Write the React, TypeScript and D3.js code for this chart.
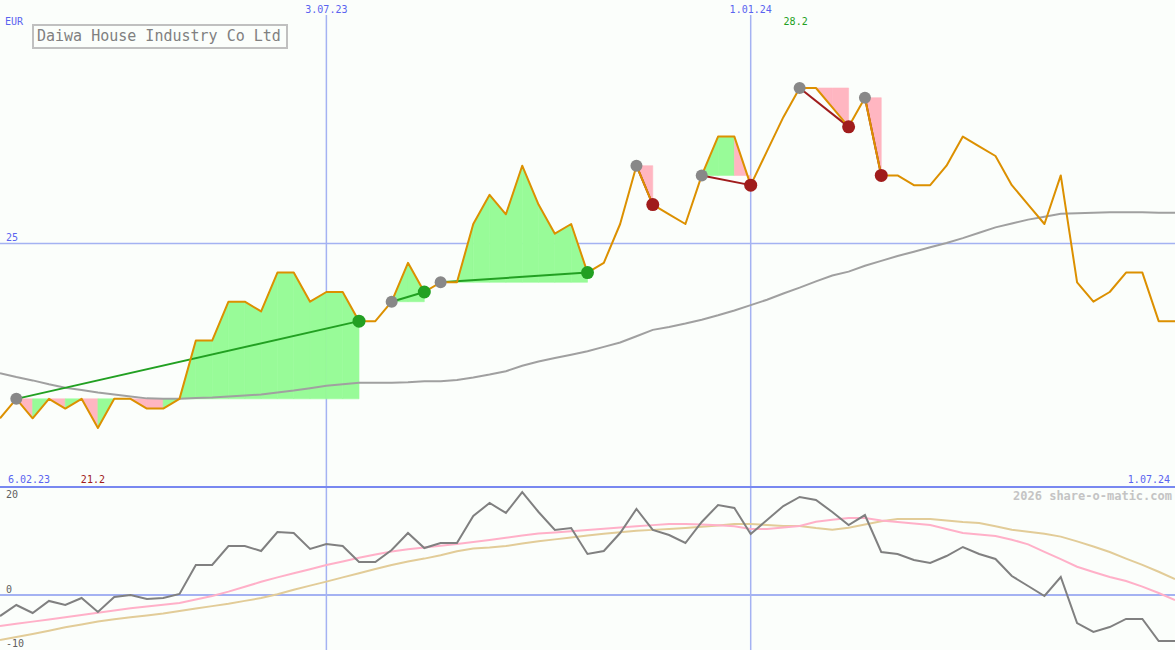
import React from "react";
import * as d3 from "d3";

const W = 1175;
const H = 650;

const title = "Daiwa House Industry Co Ltd";
const currency = "EUR";
const startLabel = "6.02.23";
const endLabel = "1.07.24";
const dateTicks = ["3.07.23", "1.01.24"];
const dateTickIdx = [20, 46];
const priceGrid = [25];
const oscGrid = [0];
const oscLabels = [20, 0, -10];
const credit = "2026 share-o-matic.com";

const price = [
  21.4, 21.8, 21.4, 21.8, 21.6, 21.8, 21.2, 21.8, 21.8, 21.6,
  21.6, 21.8, 23.0, 23.0, 23.8, 23.8, 23.6, 24.4, 24.4, 23.8,
  24.0, 24.0, 23.4, 23.4, 23.8, 24.6, 24.0, 24.2, 24.2, 25.4,
  26.0, 25.6, 26.6, 25.8, 25.2, 25.4, 24.4, 24.6, 25.4, 26.6,
  25.8, 25.6, 25.4, 26.4, 27.2, 27.2, 26.2, 26.9, 27.6, 28.2,
  28.2, 27.8, 27.4, 28.0, 26.4, 26.4, 26.2, 26.2, 26.6, 27.2,
  27.0, 26.8, 26.2, 25.8, 25.4, 26.4, 24.2, 23.8, 24.0, 24.4,
  24.4, 23.4, 23.4,
];

const movingAvg = [
  22.33, 22.25, 22.18, 22.10, 22.03, 21.98, 21.93, 21.89, 21.85, 21.81,
  21.80, 21.80, 21.82, 21.83, 21.85, 21.87, 21.89, 21.93, 21.97, 22.02,
  22.07, 22.10, 22.13, 22.13, 22.13, 22.14, 22.16, 22.16, 22.19, 22.24,
  22.30, 22.37, 22.48, 22.57, 22.64, 22.71, 22.78, 22.87, 22.96, 23.09,
  23.22, 23.28, 23.35, 23.43, 23.52, 23.62, 23.73, 23.84, 23.97, 24.09,
  24.22, 24.34, 24.42, 24.54, 24.64, 24.74, 24.83, 24.92, 25.01, 25.11,
  25.22, 25.33, 25.41, 25.49, 25.55, 25.61, 25.62, 25.63, 25.64, 25.64,
  25.64, 25.63, 25.63,
];

const momentum = [
  -3.9, -1.85, -3.33, -1.1, -1.85, -0.55, -3.15, -0.37, 0.0, -0.74,
  -0.55, 0.19, 5.56, 5.56, 9.07, 9.07, 8.15, 11.67, 11.48, 8.52,
  9.44, 9.07, 6.11, 6.11, 8.33, 11.48, 8.7, 9.63, 9.63, 14.63,
  17.04, 15.19, 19.07, 15.37, 12.04, 12.41, 7.59, 8.15, 11.48, 15.93,
  12.04, 11.11, 9.63, 13.52, 16.67, 16.11, 11.3, 13.89, 16.48, 18.15,
  17.59, 15.37, 12.96, 14.81, 7.96, 7.59, 6.48, 5.93, 7.22, 8.89,
  7.59, 6.67, 3.52, 1.67, -0.19, 3.33, -5.19, -6.85, -5.93, -4.44,
  -4.44, -8.52, -8.52,
];

const signalFast = [
  -5.74, -5.33, -4.93, -4.52, -4.11, -3.70, -3.30, -2.89, -2.46, -2.13,
  -1.81, -1.48, -0.85, -0.19, 0.63, 1.54, 2.44, 3.26, 4.02, 4.78,
  5.54, 6.20, 6.89, 7.50, 8.06, 8.48, 8.80, 9.11, 9.44, 9.80,
  10.19, 10.59, 11.02, 11.37, 11.59, 11.81, 12.04, 12.28, 12.50, 12.72,
  12.94, 13.15, 13.15, 13.04, 12.91, 12.74, 12.22, 12.22, 12.50, 12.78,
  13.57, 13.94, 14.26, 14.26, 13.81, 13.50, 13.24, 12.96, 12.22, 11.48,
  11.19, 10.94, 10.24, 9.37, 7.98, 6.65, 5.24, 4.26, 3.33, 2.59,
  1.56, 0.37, -0.93,
];

const signalSlow = [
  -8.33, -7.78, -7.22, -6.61, -5.98, -5.46, -4.89, -4.50, -4.13, -3.78,
  -3.43, -2.98, -2.52, -2.06, -1.61, -1.09, -0.56, 0.15, 0.98, 1.74,
  2.48, 3.26, 4.04, 4.81, 5.56, 6.20, 6.74, 7.37, 8.09, 8.59,
  8.78, 9.06, 9.52, 9.94, 10.30, 10.65, 11.02, 11.35, 11.63, 11.89,
  12.06, 12.24, 12.43, 12.63, 12.89, 13.15, 13.15, 12.98, 12.78, 12.78,
  12.39, 12.09, 12.46, 13.04, 13.65, 14.07, 14.07, 14.07, 13.80, 13.52,
  13.33, 12.74, 12.09, 11.70, 11.35, 10.81, 9.93, 8.98, 7.96, 6.74,
  5.57, 4.31, 2.96,
];

const tradeEntries = [1, 24, 27, 39, 43, 49, 53];
const tradeExits = [22, 26, 36, 40, 46, 52, 54];

const C = {
  bg: "#fbfefb",
  grid: "#a4b2f2",
  sep: "#7888f0",
  axisText: "#5a64f0",
  price: "#dc9000",
  ma: "#a0a0a0",
  mom: "#808080",
  fast: "#ffb0c8",
  slow: "#e2cc98",
  gain: "#98fb98",
  loss: "#ffb6c1",
  win: "#22a022",
  lose: "#a01c1c",
  entry: "#888888",
};

export default function App() {
  const n = price.length;
  const x = d3.scaleLinear().domain([0, n - 1]).range([0, W]);
  const minV = d3.min(price) as number;
  const maxV = d3.max(price) as number;
  const minIdx = price.indexOf(minV);
  const maxIdx = price.indexOf(maxV);
  const y = d3.scaleLinear().domain([minV, maxV]).range([428, 88]);
  const yo = d3.scaleLinear().domain([-10, 20]).range([649, 487]);

  const linePrice = d3.line<number>().x((_, i) => x(i)).y((d) => y(d));
  const lineOsc = d3.line<number>().x((_, i) => x(i)).y((d) => yo(d));

  const fills: { d: string; c: string }[] = [];
  tradeEntries.forEach((e, t) => {
    const ex = tradeExits[t];
    const pe = price[e];
    for (let i = e + 1; i <= ex; i++) {
      const d = `M${x(i - 1)},${y(pe)}L${x(i - 1)},${y(price[i - 1])}L${x(i)},${y(price[i])}L${x(i)},${y(pe)}Z`;
      fills.push({ d, c: price[i] < pe ? C.loss : C.gain });
    }
  });

  const mono = "'DejaVu Sans Mono', 'Liberation Mono', monospace";

  return (
    <div style={{ position: "fixed", left: 0, top: 0, width: W, height: H }}>
      <svg width={W} height={H} style={{ display: "block" }} fontFamily={mono}>
        <rect x={0} y={0} width={W} height={H} fill={C.bg} />
        {dateTickIdx.map((di, k) => (
          <g key={"dt" + k}>
            <line x1={x(di)} x2={x(di)} y1={15} y2={H} stroke={C.grid} strokeWidth={1.5} />
            <text x={x(di)} y={13} fontSize={10} fill={C.axisText} textAnchor="middle">
              {dateTicks[k]}
            </text>
          </g>
        ))}
        {priceGrid.map((g) => (
          <g key={"pg" + g}>
            <line x1={0} x2={W} y1={y(g)} y2={y(g)} stroke={C.grid} strokeWidth={1.5} />
            <text x={6} y={y(g) - 2} fontSize={10} fill={C.axisText}>{g}</text>
          </g>
        ))}
        {oscGrid.map((g) => (
          <line key={"og" + g} x1={0} x2={W} y1={yo(g)} y2={yo(g)} stroke={C.grid} strokeWidth={2} />
        ))}
        <line x1={0} x2={W} y1={487} y2={487} stroke={C.sep} strokeWidth={2} />

        {fills.map((f, i) => (
          <path key={"f" + i} d={f.d} fill={f.c} stroke={f.c} strokeWidth={0.6} />
        ))}

        <path d={linePrice(movingAvg) || ""} fill="none" stroke={C.ma} strokeWidth={2} />

        {tradeEntries.map((e, t) => {
          const ex = tradeExits[t];
          const col = price[ex] >= price[e] ? C.win : C.lose;
          return (
            <line key={"tl" + t} x1={x(e)} y1={y(price[e])} x2={x(ex)} y2={y(price[ex])} stroke={col} strokeWidth={2} />
          );
        })}

        <path d={linePrice(price) || ""} fill="none" stroke={C.price} strokeWidth={2} strokeLinejoin="round" />

        {tradeEntries.map((e, t) => {
          const ex = tradeExits[t];
          const col = price[ex] >= price[e] ? C.win : C.lose;
          return (
            <g key={"dot" + t}>
              <circle cx={x(e)} cy={y(price[e])} r={6} fill={C.entry} />
              <circle cx={x(ex)} cy={y(price[ex])} r={6.5} fill={col} />
            </g>
          );
        })}

        <path d={lineOsc(signalSlow) || ""} fill="none" stroke={C.slow} strokeWidth={2} />
        <path d={lineOsc(signalFast) || ""} fill="none" stroke={C.fast} strokeWidth={2} />
        <path d={lineOsc(momentum) || ""} fill="none" stroke={C.mom} strokeWidth={2} />

        <text x={5} y={25} fontSize={10} fill={C.axisText}>{currency}</text>
        <rect x={33} y={25} width={254} height={23} fill={C.bg} stroke="#c0c0c0" strokeWidth={2} />
        <text x={37} y={41} fontSize={15} fill="#808080">{title}</text>
        <text x={x(maxIdx) - 4} y={25} fontSize={10} fill={C.win} textAnchor="middle">{maxV.toFixed(1)}</text>
        <text x={x(minIdx) - 5} y={483} fontSize={10} fill={C.lose} textAnchor="middle">{minV.toFixed(1)}</text>
        <text x={8} y={483} fontSize={10} fill={C.axisText}>{startLabel}</text>
        <text x={1170} y={483} fontSize={10} fill={C.axisText} textAnchor="end">{endLabel}</text>
        {oscLabels.map((v) => (
          <text key={"ol" + v} x={6} y={v === -10 ? 647 : yo(v) - 2 + (v === 20 ? 13 : 0)} fontSize={10} fill="#606060">
            {v}
          </text>
        ))}
        <text x={1172} y={500} fontSize={12} fontWeight="bold" fill="#c4c4c4" textAnchor="end">{credit}</text>
      </svg>
    </div>
  );
}
